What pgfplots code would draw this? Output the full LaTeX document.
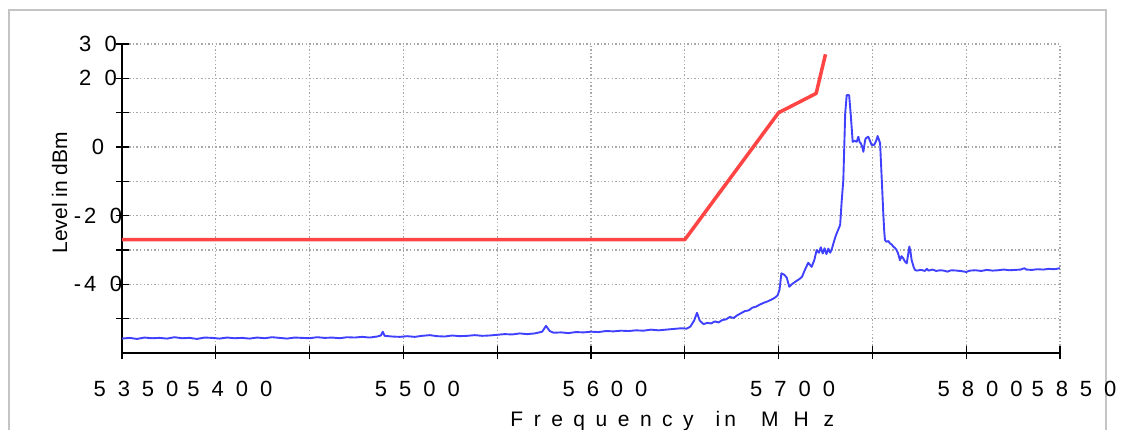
\documentclass[border=0pt]{standalone}
\usepackage{fontspec}
\setmainfont{Liberation Sans}
\usepackage{pgfplots}
\pgfplotsset{compat=1.18}
\definecolor{maskred}{HTML}{FF4444}
\definecolor{traceblue}{HTML}{4040FF}
\definecolor{gridgray}{HTML}{A8A8A8}
\definecolor{framegray}{HTML}{C4C4C4}
\newcommand{\g}{\hspace{12pt}}
\newcommand{\h}{\hspace{13.5pt}}
\newcommand{\ls}{\hspace{10.5pt}}
\begin{document}
\begin{tikzpicture}
\path[use as bounding box] (0pt,0pt) rectangle (1121pt,430pt);
\draw[framegray, line width=2pt] (8.5pt,-5pt) -- (8.5pt,420pt) -- (1106pt,420pt) -- (1106pt,-5pt);
\begin{axis}[
  at={(122pt,77pt)}, anchor=south west, scale only axis,
  width=938pt, height=309pt,
  xmin=5350, xmax=5850, ymin=-60, ymax=30,
  axis x line=bottom, axis y line=left,
  axis line style={-, line width=1.3pt, black},
  xtick={5350,5400,...,5850},
  xticklabels={{5\g3\g5\g0},{5\g4\g0\g0},{},{5\g5\g0\g0},{},{5\g6\g0\g0},{},{5\g7\g0\g0},{},{5\g8\g0\g0},{5\g8\g5\g0}},
  ytick={-50,-40,...,30},
  yticklabels={{},{-\hspace{3pt}4\h0},{},{-\hspace{3pt}2\h0},{},{0},{},{2\h0},{3\h0}},
  tick align=center, major tick length=13pt,
  tick style={line width=1.3pt, black},
  grid=major,
  major grid style={gridgray, line width=1.3pt, dash pattern=on 1.3pt off 2.3pt},
  tick label style={font=\fontsize{22}{24}\selectfont},
  xticklabel style={anchor=center, xshift=14pt, yshift=-29.5pt},
  yticklabel style={anchor=center, xshift=-17.5pt},
  xlabel={F\ls r\ls e\ls q\ls u\ls e\ls n\ls c\ls y\hspace{22pt}i\hspace{4pt}n\hspace{25pt}M\hspace{15pt}H\hspace{15pt}z},
  xlabel style={at={(axis description cs:0.4104,0)}, anchor=base west, yshift=-73.7pt, font=\fontsize{21}{24}\selectfont},
  ylabel={Level in dBm},
  ylabel style={at={(axis description cs:-0.0586,0.3107)}, anchor=base west, font=\fontsize{21}{24}\selectfont},
]
\addplot[traceblue, line width=1.9pt, line join=round] coordinates {
(5350,-55.8) (5354,-55.6) (5358,-55.9) (5362,-55.5) (5366,-55.7) (5370,-55.6) (5374,-55.8) (5378,-55.4)
(5382,-55.7) (5386,-55.6) (5390,-55.9) (5394,-55.5) (5398,-55.6) (5402,-55.8) (5406,-55.5) (5410,-55.7)
(5414,-55.6) (5418,-55.8) (5422,-55.5) (5426,-55.7) (5430,-55.4) (5434,-55.6) (5438,-55.8) (5442,-55.5)
(5446,-55.6) (5450,-55.7) (5454,-55.4) (5458,-55.6) (5462,-55.5) (5466,-55.7) (5470,-55.4) (5474,-55.5)
(5478,-55.3) (5482,-55.5) (5486,-55.2) (5488,-54.9) (5489,-53.8) (5490,-55.0) (5494,-55.2) (5498,-55.3)
(5502,-55.1) (5506,-55.3) (5510,-55.0) (5514,-54.8) (5518,-55.1) (5522,-55.2) (5526,-54.9) (5530,-55.1)
(5534,-55.0) (5538,-54.8) (5542,-55.0) (5546,-54.9) (5550,-54.7) (5554,-54.5) (5558,-54.6) (5562,-54.3)
(5566,-54.5) (5570,-54.3) (5574,-53.8) (5576,-52.1) (5578,-53.6) (5580,-54.1) (5584,-54.0) (5588,-54.2)
(5592,-53.9) (5596,-54.0) (5600,-53.8) (5604,-53.9) (5608,-53.6) (5612,-53.7) (5616,-53.5) (5620,-53.6)
(5624,-53.4) (5628,-53.5) (5632,-53.2) (5636,-53.4) (5640,-53.2) (5644,-53.0) (5648,-52.8) (5651,-52.9)
(5653,-52.3) (5655,-50.5) (5656.5,-48.3) (5658,-50.6) (5660,-51.6) (5662,-51.2) (5664,-51.4) (5666,-50.8)
(5668,-51.1) (5670,-50.4) (5672,-50.2) (5674,-49.5) (5676,-49.8) (5678,-49.0) (5680,-48.4) (5682,-47.8)
(5684,-47.6) (5686,-46.8) (5688,-46.5) (5690,-45.9) (5692,-45.4) (5694,-45.0) (5696,-44.5) (5698,-43.9)
(5699.5,-43.2) (5700.5,-41.5) (5701.5,-36.8) (5703,-37.2) (5704.3,-38.0) (5705.7,-40.7) (5707,-40.0)
(5709,-39.2) (5711,-38.5) (5712.5,-37.8) (5714,-35.8) (5715.8,-33.7) (5717.6,-34.9) (5719,-33.0)
(5720.3,-30.0) (5721.5,-30.8) (5722.5,-29.2) (5723.5,-31.0) (5724.5,-29.5) (5725.5,-31.2) (5726.5,-29.6)
(5727.5,-30.8) (5728.5,-29.5) (5729.2,-28.1) (5730.2,-26.3) (5731,-25.1) (5732,-23.8) (5732.8,-22.7)
(5733.6,-16) (5734.5,-9.6) (5735.5,9.8) (5736.3,15.1) (5737.6,15.1) (5738.4,9.8) (5739.5,1.5)
(5740.5,1.8) (5741.6,1.5) (5742.5,3.0) (5743.2,1.4) (5743.8,1.1) (5744.5,0.2) (5745.2,-1.4) (5746,1.6)
(5746.4,2.5) (5747.8,3.0) (5748.7,1.8) (5749.6,0.6) (5750.9,0.6) (5752,1.8) (5752.8,3.2) (5754.1,1.1)
(5755,-9.6) (5755.8,-19.3) (5756.3,-24.5) (5756.7,-27.1) (5757.5,-27.6) (5758.5,-27.4) (5759.4,-28.1)
(5760.3,-28.4) (5761.1,-29.0) (5762,-29.4) (5762.9,-30.0) (5763.8,-31.2) (5764.7,-33.0) (5765.5,-31.8)
(5766.4,-32.4) (5767.3,-33.3) (5768.3,-33.9) (5769,-31.5) (5769.7,-29.0) (5770.3,-30.5) (5770.9,-32.9)
(5772,-35.0) (5772.7,-35.8) (5773.6,-36.0) (5776,-35.8) (5778,-36.1) (5779,-35.5) (5780,-36.0)
(5782,-35.7) (5784,-36.1) (5786,-35.9) (5788,-36.0) (5790,-36.3) (5792,-35.9) (5795,-36.0) (5798,-36.2)
(5800,-36.4) (5802,-36.0) (5805,-35.9) (5808,-36.1) (5811,-35.8) (5814,-36.0) (5817,-35.9) (5820,-35.7)
(5823,-35.9) (5826,-35.8) (5829,-35.7) (5831,-35.3) (5832,-35.7) (5835,-35.8) (5838,-35.6) (5841,-35.7)
(5844,-35.5) (5847,-35.6) (5850,-35.3)
};
\addplot[maskred, line width=3.5pt, line join=round] coordinates {
(5350,-27) (5650,-27) (5700,10) (5720,15.6) (5725,27)
};
\end{axis}
\end{tikzpicture}
\end{document}
